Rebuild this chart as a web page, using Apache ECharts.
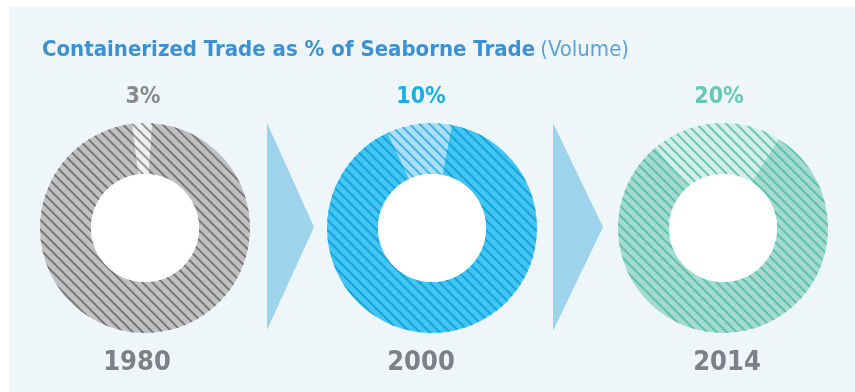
<!DOCTYPE html>
<html>
<head>
<meta charset="utf-8">
<script src="https://cdn.jsdelivr.net/npm/echarts@6/dist/echarts.min.js"></script>
<style>
  html, body { margin: 0; padding: 0; background: #ffffff; }
  #chart { width: 855px; height: 392px; }
</style>
</head>
<body>
<div id="chart"></div>
<script>
// Share of seaborne trade volume that moved in containers
const years = ['1980', '2000', '2014'];
const containerShare = [3, 10, 20];
const otherShare = [97, 90, 80];

const titleMain = 'Containerized Trade as % of Seaborne Trade';
const titleSub = '(Volume)';

// Per-ring look: base fill / hatch line, highlighted slice fill / hatch line, label colour
const palettes = [
  { base: '#c0c0c0', baseLine: '#777777', hi: '#efefef', hiLine: '#999999', text: '#8a8a8a' },
  { base: '#42c5f2', baseLine: '#14a2db', hi: '#acdff6', hiLine: '#3fb3e5', text: '#1aaee8' },
  { base: '#a5dad0', baseLine: '#5cc1ad', hi: '#d4eee8', hiLine: '#69c7b4', text: '#66c9b6' }
];

// Layout
const centers = [[145, 228], [432, 228], [723, 228]];
const innerR = 54, outerR = 105;
const startAngles = [97, 115, 130];
const pctLabelX = [143, 421, 719];
const yearLabelX = [137, 421, 727];
const FONT = '"Liberation Sans Narrow", "DejaVu Sans Condensed", sans-serif';

// Diagonal "\" stripe decal
function stripes(line) {
  return {
    symbol: 'rect',
    symbolSize: 1,
    color: line,
    dashArrayX: [1, 0],
    dashArrayY: [1.1, 4.4],
    rotation: Math.PI / 4
  };
}

const series = years.map((y, i) => {
  const p = palettes[i];
  return {
    type: 'pie',
    silent: true,
    center: centers[i],
    radius: [innerR, outerR],
    startAngle: startAngles[i],
    clockwise: true,
    label: { show: false },
    labelLine: { show: false },
    emphasis: { disabled: true },
    animation: false,
    data: [
      { name: 'Containerized', value: containerShare[i], itemStyle: { color: p.hi, decal: stripes(p.hiLine) } },
      { name: 'Other', value: otherShare[i], itemStyle: { color: p.base, decal: stripes(p.baseLine) } }
    ]
  };
});

const graphics = [
  // panel
  { type: 'rect', z: -10, shape: { x: 9, y: 7, width: 846, height: 385 }, style: { fill: '#eef6fa' } },
  // arrows between rings
  { type: 'polygon', shape: { points: [[267, 123], [314, 227], [267, 330]] }, style: { fill: '#9dd3eb' } },
  { type: 'polygon', shape: { points: [[553, 123], [603, 227], [553, 331]] }, style: { fill: '#9dd3eb' } }
];

years.forEach((y, i) => {
  // white hole of each ring
  graphics.push({
    type: 'circle', z: 10,
    shape: { cx: centers[i][0], cy: centers[i][1], r: innerR },
    style: { fill: '#ffffff' }
  });
  graphics.push({
    type: 'text', z: 10,
    style: {
      text: containerShare[i] + '%',
      x: pctLabelX[i], y: 109,
      align: 'center', verticalAlign: 'bottom',
      font: 'bold 23px ' + FONT,
      fill: palettes[i].text
    }
  });
  graphics.push({
    type: 'text', z: 10,
    style: {
      text: y,
      x: yearLabelX[i], y: 376,
      align: 'center', verticalAlign: 'bottom',
      font: 'bold 27px ' + FONT,
      fill: '#7f7f87'
    }
  });
});

const chart = echarts.init(document.getElementById('chart'), null, { renderer: 'canvas' });
chart.setOption({
  animation: false,
  title: {
    left: 37, top: 34,
    text: '{b|' + titleMain + '} {l|' + titleSub + '}',
    textStyle: {
      rich: {
        b: { fontFamily: FONT, fontWeight: 'bold', fontSize: 22, color: '#3b91d4' },
        l: { fontFamily: FONT, fontWeight: 'normal', fontSize: 22, color: '#5aa3dc' }
      }
    }
  },
  graphic: graphics,
  series: series
});
</script>
</body>
</html>
